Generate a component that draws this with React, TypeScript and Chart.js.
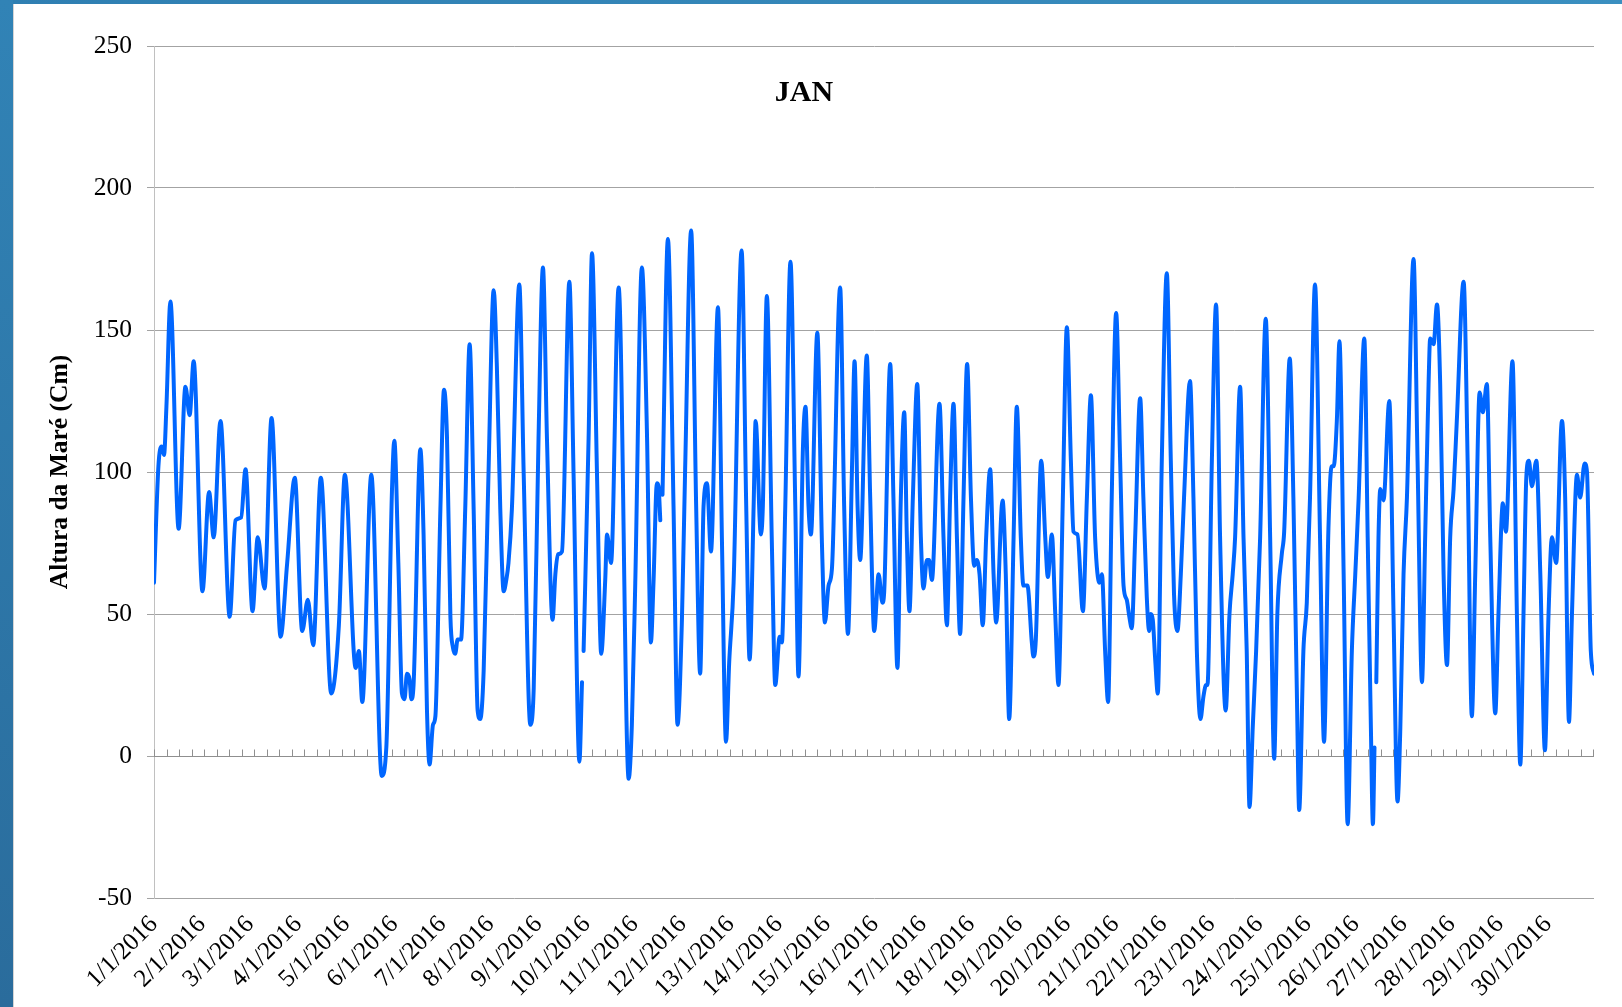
import React, { useEffect, useRef } from "react";
import { Chart, registerables } from "chart.js";

Chart.register(...registerables);

// Hour offsets (from 1/1/2016 00h) of the read-off points of the tide curve
const HOURS: number[] = [
  0, 2.2, 3.8, 5, 6.2, 8.2, 12.3, 15.7, 17.8, 19.8,
  24.2, 27.5, 29.8, 33.2, 37.8, 40.7, 43.5, 45.7, 49.2, 51.8,
  55.2, 58.7, 63.2, 66.5, 70.3, 74, 76.8, 79.5, 83.3, 88.5,
  92.3, 95.3, 100.7, 102.3, 104, 108.5, 113.7, 116, 118.8, 120,
  122, 123.8, 125.1, 126.3, 127.6, 128.5, 129.6, 133, 134.6, 136.3,
  137.6, 139.3, 140.5, 143, 144.8, 146.3, 148, 149.3, 150.4, 151.6,
  153.3, 155.4, 157.6, 159.6, 161.6, 162.9, 164.6, 167, 169.6, 171.2,
  172.9, 174.6, 175.9, 177, 178.7, 182.4, 184.6, 187.9, 189.6, 192,
  194.2, 196.2, 199, 200.4, 201.7, 203.7, 207.4, 209.5, 212.4, 213.7,
  214.1, 214.5, 217, 218.7, 221.2, 223.3, 225.3, 226.2, 228.2, 232,
  237, 238.6, 240.3, 243.6, 246.1, 248.1, 249.4, 251.1, 251.9, 252.8,
  253.3, 253.9, 256.6, 259.4, 261.4, 263.6, 265.2, 268.2, 270.7, 272.7,
  274.4, 276.1, 278.1, 281.6, 283.6, 285.6, 287.2, 289.4, 293.4, 295.7,
  297.4, 299.4, 300.4, 303, 304, 306, 308.5, 310.2, 312.4, 313.5,
  315.2, 317.8, 320.2, 321.8, 324, 325.3, 326.8, 328, 331.2, 333.5,
  335, 336.8, 338.5, 342.6, 344.6, 346.5, 348.5, 349.8, 351.3, 352.6,
  355.9, 357.6, 359.6, 361.8, 363.7, 364.6, 367.6, 369.2, 371.2, 372.9,
  374.6, 375.9, 377.2, 378.9, 381.1, 382.9, 384.2, 385.9, 387, 388.4,
  392.2, 394.2, 395.9, 397.5, 399.2, 400.9, 402.5, 404.2, 406, 407.9,
  409.5, 410.8, 412.2, 413.8, 415.5, 417.5, 419.2, 420.5, 423.7, 425.3,
  427, 429.2, 430.8, 432.8, 434.1, 436.1, 438.3, 439.1, 440.3, 443,
  445, 446.3, 448.3, 450, 451.6, 453.8, 455.8, 457.8, 459.1, 461.1,
  463.8, 465.8, 467.8, 469.9, 472.1, 473.3, 474.9, 476.4, 478.2, 480.4,
  482.4, 484.1, 485.7, 487, 488.2, 489.9, 492.4, 494, 495.7, 496.9,
  497.7, 498.7, 499.9, 501.2, 503.2, 505.7, 507.7, 509.3, 511, 512.7,
  514.3, 517.3, 519, 520.7, 522.5, 524, 525.3, 526, 528.2, 530.3,
  532.3, 535.1, 537, 538.6, 539.8, 542.3, 544, 545.6, 547, 548.6,
  550.3, 552.3, 555.1, 557.3, 559.3, 560.9, 563.1, 564.3, 567.1, 568.9,
  570.6, 571.8, 573.9, 575.6, 577.2, 579.7, 582.2, 584.2, 586.4, 588,
  589, 590.6, 591.9, 594, 596, 598.1, 599.8, 601.5, 604.3, 606,
  607.6, 608.6, 609.4, 609.85, 610.3, 611.4, 612.3, 613.9, 616.8, 618.9,
  620.9, 622.3, 623.9, 625.6, 628.9, 630.9, 633.1, 634.7, 636.4, 637.2,
  638.9, 640.6, 642.2, 643.9, 645.6, 647.2, 648.9, 650.5, 653.9, 655.9,
  658, 659.7, 661.9, 663.5, 665.5, 667.2, 669.7, 671.3, 673.5, 675,
  678.3, 680.5, 682.2, 683.8, 685.2, 686.5, 688, 690.2, 692.2, 694.5,
  696.3, 698, 700.1, 703, 704.6, 706.5, 708, 710.5, 712.1, 714.3,
  715.5, 717.4, 719,
];

// Tide height (cm) at each hour above; null = gap in the record
const HEIGHTS: (number | null)[] = [
  61, 102, 109, 106, 123, 160, 80, 130, 120, 139,
  58, 93, 77, 118, 49, 83, 84, 101, 51, 77,
  59, 119, 42, 68, 98, 44, 55, 39, 98, 22,
  46, 99, 31, 37, 19, 99, -7, 3, 93, 111,
  68, 22, 20, 29, 27, 20, 25, 108, 78, 16,
  -3, 11, 14, 87, 129, 112, 49, 38, 36, 41,
  41, 87, 145, 87, 16, 13, 30, 99, 164, 137,
  87, 58, 62, 68, 87, 166, 99, 11, 24, 112,
  172, 112, 48, 64, 71, 72, 167, 99, -2, 26,
  null, 37, 112, 177, 99, 36, 62, 78, 68, 165,
  -8, 11, 61, 172, 115, 40, 61, 96, 95, 83,
  null, 92, 182, 88, 11, 48, 101, 185, 88, 29,
  88, 96, 72, 158, 75, 5, 33, 61, 178, 88,
  34, 88, 118, 78, 88, 162, 75, 25, 42, 40,
  88, 174, 88, 28, 108, 123, 88, 78, 149, 75,
  47, 60, 66, 165, 88, 43, 101, 139, 88, 69,
  141, 91, 44, 64, 54, 58, 138, 91, 31, 91,
  121, 77, 51, 91, 131, 77, 59, 69, 69, 62,
  124, 77, 46, 91, 124, 77, 43, 91, 138, 91,
  67, 69, 64, 46, 77, 101, 64, 47, 90, 64,
  13, 77, 123, 77, 60, 60, 40, 35, 41, 104,
  77, 63, 78, 50, 25, 91, 151, 104, 79, 78,
  51, 91, 127, 77, 61, 64, 37, 19, 91, 156,
  104, 60, 55, 49, 45, 77, 126, 91, 56, 44,
  50, 48, 34, 22, 104, 170, 104, 57, 44, 64,
  91, 132, 91, 37, 13, 21, 25, 25, 104, 159,
  77, 16, 50, 64, 77, 130, 77, 37, -18, 10,
  37, 77, 154, 77, -1, 50, 71, 79, 140, 91,
  24, -19, 37, 54, 91, 166, 77, 5, 80, 102,
  102, 118, 146, 64, -24, 37, 64, 91, 147, 77,
  10, -24, 3, null, 26, 77, 94, 90, 125, 50,
  -16, 10, 64, 91, 175, 104, 26, 77, 131, 147,
  145, 159, 131, 64, 32, 77, 94, 118, 167, 104,
  14, 64, 128, 121, 131, 77, 15, 50, 89, 79,
  139, 50, -3, 50, 98, 104, 95, 104, 64, 2,
  50, 77, 68, 118, 91, 12, 50, 99, 91, 103,
  100, 37, 29,
];

const DAY_LABELS: string[] = [
  "1/1/2016", "2/1/2016", "3/1/2016", "4/1/2016", "5/1/2016",
  "6/1/2016", "7/1/2016", "8/1/2016", "9/1/2016", "10/1/2016",
  "11/1/2016", "12/1/2016", "13/1/2016", "14/1/2016", "15/1/2016",
  "16/1/2016", "17/1/2016", "18/1/2016", "19/1/2016", "20/1/2016",
  "21/1/2016", "22/1/2016", "23/1/2016", "24/1/2016", "25/1/2016",
  "26/1/2016", "27/1/2016", "28/1/2016", "29/1/2016", "30/1/2016",
];

const HOURS_PER_LABEL = 24;
const X_MAX_HOURS = 719;
const MINOR_TICK_HOURS = 6.25;
const Y_MIN = -50;
const Y_MAX = 250;
const Y_STEP = 50;
const TITLE = "JAN";
const Y_TITLE = "Altura da Maré (Cm)";

const FONT = "'Liberation Serif', 'Times New Roman', serif";

export default function App() {
  const canvasRef = useRef<HTMLCanvasElement | null>(null);

  useEffect(() => {
    document.body.style.margin = "0";
    const canvas = canvasRef.current;
    if (!canvas) return;

    const data = HOURS.map((h, i) => ({ x: h, y: HEIGHTS[i] }));

    const zeroAxisTicks = {
      id: "zeroAxisTicks",
      beforeDatasetsDraw(chart: any) {
        const { ctx, scales } = chart;
        const xs = scales.x;
        const ys = scales.y;
        const y0 = Math.round(ys.getPixelForValue(0)) + 0.5;
        ctx.save();
        ctx.strokeStyle = "#8f8f8f";
        ctx.lineWidth = 1;
        ctx.beginPath();
        ctx.moveTo(xs.left, y0);
        ctx.lineTo(xs.right, y0);
        for (let t = 0; t <= X_MAX_HOURS + 0.01; t += MINOR_TICK_HOURS) {
          const px = Math.round(xs.getPixelForValue(t)) + 0.5;
          ctx.moveTo(px, y0);
          ctx.lineTo(px, y0 - 7);
        }
        ctx.stroke();
        ctx.restore();
      },
    };

    const chartTitle = {
      id: "chartTitle",
      afterDraw(chart: any) {
        const { ctx } = chart;
        ctx.save();
        ctx.font = `bold 30px ${FONT}`;
        ctx.fillStyle = "#000";
        ctx.textAlign = "center";
        ctx.textBaseline = "middle";
        ctx.fillText(TITLE, chart.width / 2 - 7, 93);
        ctx.restore();
      },
    };

    const chart = new Chart(canvas, {
      type: "line",
      data: {
        datasets: [
          {
            label: "Altura",
            data,
            borderColor: "#0066ff",
            backgroundColor: "#0066ff",
            borderWidth: 4,
            pointRadius: 0,
            pointHoverRadius: 0,
            cubicInterpolationMode: "monotone",
            spanGaps: false,
            borderJoinStyle: "round",
            borderCapStyle: "round",
            fill: false,
          },
        ],
      },
      options: {
        animation: false,
        responsive: false,
        events: [],
        layout: { padding: { left: 0, top: 46, right: 28, bottom: 0 } },
        plugins: {
          legend: { display: false },
          tooltip: { enabled: false },
          title: { display: false },
        },
        scales: {
          x: {
            type: "linear",
            min: 0,
            max: X_MAX_HOURS,
            grid: { display: false },
            border: { display: false },
            afterBuildTicks: (scale: any) => {
              scale.ticks = DAY_LABELS.map((_, i) => ({ value: i * HOURS_PER_LABEL }));
            },
            afterFit: (scale: any) => {
              scale.height = 109;
            },
            ticks: {
              autoSkip: false,
              minRotation: 45,
              maxRotation: 45,
              padding: 4,
              color: "#000",
              font: { family: FONT, size: 25 },
              callback: (_v: any, i: number) => DAY_LABELS[i],
            },
          },
          y: {
            type: "linear",
            min: Y_MIN,
            max: Y_MAX,
            afterFit: (scale: any) => {
              scale.width = 154;
            },
            grid: {
              color: "#a3a3a3",
              lineWidth: 1,
              tickLength: 7,
              drawTicks: true,
            },
            border: { display: true, color: "#c0c0c0", width: 1 },
            ticks: {
              stepSize: Y_STEP,
              padding: 15,
              color: "#000",
              font: { family: FONT, size: 25.5 },
            },
            title: {
              display: true,
              text: Y_TITLE,
              color: "#000",
              font: { family: FONT, size: 25.5, weight: "bold" },
              padding: { top: 45, bottom: 0 },
            },
          },
        },
      },
      plugins: [zeroAxisTicks, chartTitle],
    } as any);

    return () => {
      chart.destroy();
    };
  }, []);

  return (
    <div
      style={{
        position: "fixed",
        left: 0,
        top: 0,
        width: 1622,
        height: 1007,
        background: "#ffffff",
        overflow: "hidden",
      }}
    >
      <canvas
        ref={canvasRef}
        width={1622}
        height={1007}
        style={{ position: "absolute", left: 0, top: 0, width: 1622, height: 1007 }}
      />
      <div
        style={{
          position: "absolute",
          left: 0,
          top: 0,
          width: 1622,
          height: 4,
          background: "linear-gradient(90deg, #2f7fb2, #3a8fc0)",
        }}
      />
      <div
        style={{
          position: "absolute",
          left: 0,
          top: 0,
          width: 13,
          height: 1007,
          background: "linear-gradient(180deg, #3183b6, #2a6c9c)",
        }}
      />
      <div
        style={{
          position: "absolute",
          left: 13,
          top: 4,
          width: 1,
          height: 1003,
          background: "#d4d4d4",
        }}
      />
    </div>
  );
}
